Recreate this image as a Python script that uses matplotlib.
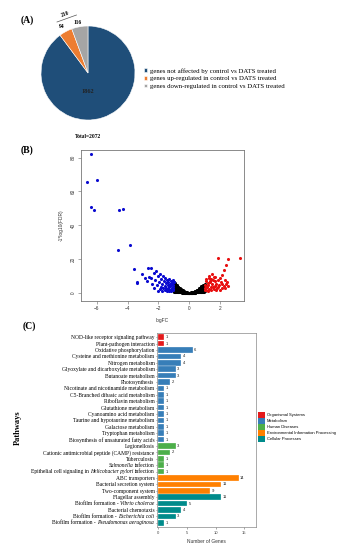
import matplotlib
matplotlib.use("Agg")
import matplotlib.pyplot as plt
from matplotlib.patches import Patch
from matplotlib.lines import Line2D
from matplotlib.offsetbox import TextArea, HPacker, AnnotationBbox

W, H = 348, 550

# ---- (A) pie data ----
pie_labels = ["genes not affected by control vs DATS treated",
              "genes up-regulated in control vs DATS treated",
              "genes down-regulated in control vs DATS treated"]
pie_counts = [1862, 94, 116]
pie_colors = ["#1f4e79", "#ed7d31", "#a5a5a5"]

# ---- (B) volcano data: (logFC, -log10 FDR) pairs ----
down_pts = [(-6.4, 82.2), (-6.62, 65.6), (-5.95, 66.6), (-6.4, 50.6), (-6.18, 49.2),
            (-4.54, 49.0), (-4.32, 49.6), (-4.65, 25.6), (-3.83, 28.6),
            (-3.6, 14.0), (-3.38, 6.6), (-3.37, 5.6), (-3.07, 11.2), (-2.88, 9.0),
            (-2.66, 14.6), (-2.49, 14.6), (-2.75, 6.8), (-2.6, 9.2), (-2.45, 8.6),
            (-2.4, 5.0), (-2.3, 11.8), (-2.2, 7.6), (-2.15, 13.0), (-2.1, 4.4),
            (-2.05, 9.8), (-1.95, 6.2), (-1.9, 11.4), (-1.85, 3.2), (-1.8, 8.2),
            (-1.75, 5.4), (-1.7, 10.2), (-1.68, 2.6), (-1.62, 6.8), (-1.58, 4.2),
            (-1.55, 9.0), (-1.5, 3.0), (-1.48, 5.8), (-1.45, 7.6), (-1.4, 2.2),
            (-1.38, 4.6), (-1.35, 6.4), (-1.32, 3.4), (-1.3, 8.4), (-1.27, 2.0),
            (-1.25, 5.2), (-1.22, 3.8), (-1.2, 6.8), (-1.18, 1.8), (-1.15, 4.4),
            (-1.12, 2.8), (-1.1, 5.8), (-1.08, 3.4), (-1.05, 1.6), (-1.04, 4.8),
            (-1.02, 2.4), (-1.01, 6.2), (-1.6, 1.8), (-1.9, 2.2), (-2.0, 1.4),
            (-1.3, 1.2), (-1.15, 1.0), (-1.45, 1.1), (-1.75, 1.3), (-2.25, 3.0),
            (-1.06, 7.4)]

up_pts = [(1.84, 20.4), (2.53, 20.0), (3.29, 20.6), (2.36, 16.6), (2.23, 13.6),
          (2.1, 10.6), (1.5, 11.0), (1.6, 9.6), (1.3, 9.0), (1.45, 8.0),
          (2.0, 8.6), (2.35, 7.6), (2.45, 6.4), (1.1, 6.8), (1.2, 5.6),
          (1.35, 6.2), (1.5, 5.0), (1.65, 6.8), (1.75, 5.4), (1.85, 7.4),
          (1.95, 4.8), (2.05, 6.2), (2.15, 5.2), (2.25, 4.2), (1.05, 4.4),
          (1.15, 3.4), (1.25, 4.6), (1.4, 3.6), (1.55, 3.2), (1.7, 4.0),
          (1.8, 2.8), (1.9, 3.6), (2.1, 3.0), (2.3, 2.6), (1.02, 2.6),
          (1.1, 2.0), (1.3, 2.4), (1.45, 1.8), (1.6, 2.2), (1.75, 1.6),
          (2.0, 2.0), (1.2, 1.4), (1.0, 1.6), (1.38, 7.2), (1.58, 7.6),
          (1.7, 9.2), (2.5, 4.0), (2.4, 5.2), (1.28, 10.2), (1.12, 8.2)]

ns_pts = [(-1.0, 0.8), (-1.0, 1.7), (-0.98, 2.6), (-1.01, 3.6), (-0.99, 4.6), (-1.0, 5.6),
          (-1.0, 6.6), (-0.97, 5.4), (-0.92, 6.0), (-0.87, 4.9), (-0.82, 4.5),
          (-0.95, 0.8), (-0.94, 1.6), (-0.96, 2.5), (-0.93, 3.4), (-0.95, 4.4),
          (-0.9, 0.7), (-0.89, 1.5), (-0.91, 2.4), (-0.88, 3.3), (-0.9, 4.3), (-0.9, 5.1),
          (-0.85, 0.6), (-0.84, 1.4), (-0.86, 2.2), (-0.83, 3.1), (-0.85, 4.0),
          (-0.8, 0.6), (-0.79, 1.3), (-0.81, 2.1), (-0.78, 3.0), (-0.8, 3.8),
          (-0.75, 0.5), (-0.74, 1.2), (-0.76, 1.9), (-0.73, 2.8), (-0.75, 3.5),
          (-0.77, 4.2), (-0.72, 3.6), (-0.67, 3.1), (-0.62, 2.8), (-0.57, 2.4),
          (-0.7, 0.5), (-0.69, 1.1), (-0.71, 1.8), (-0.68, 2.6),
          (-0.65, 0.4), (-0.64, 1.0), (-0.66, 1.7), (-0.63, 2.4),
          (-0.6, 0.4), (-0.59, 0.9), (-0.61, 1.5), (-0.58, 2.1),
          (-0.55, 0.3), (-0.54, 0.8), (-0.56, 1.3), (-0.53, 1.9),
          (-0.5, 0.3), (-0.49, 0.7), (-0.51, 1.2), (-0.48, 1.7), (-0.52, 2.1),
          (-0.45, 0.2), (-0.44, 0.6), (-0.46, 1.1), (-0.47, 1.6), (-0.42, 1.5),
          (-0.4, 0.2), (-0.39, 0.5), (-0.41, 0.9), (-0.38, 1.3), (-0.37, 1.1),
          (-0.35, 0.15), (-0.34, 0.45), (-0.36, 0.8), (-0.32, 0.95),
          (-0.3, 0.1), (-0.29, 0.4), (-0.31, 0.7),
          (-0.25, 0.08), (-0.24, 0.3), (-0.26, 0.55),
          (-0.2, 0.05), (-0.19, 0.25), (-0.21, 0.45),
          (-0.15, 0.04), (-0.14, 0.2), (-0.1, 0.02), (-0.09, 0.15), (-0.11, 0.3),
          (-0.05, 0.01), (-0.04, 0.1), (0.0, 0.0), (0.01, 0.1), (-0.01, 0.18),
          (0.05, 0.02), (0.06, 0.12), (0.1, 0.03), (0.11, 0.15), (0.09, 0.3),
          (0.15, 0.05), (0.16, 0.22), (0.2, 0.06), (0.21, 0.2), (0.19, 0.4),
          (0.25, 0.1), (0.26, 0.3), (0.24, 0.55), (0.3, 0.12), (0.31, 0.35),
          (0.29, 0.65), (0.35, 0.15), (0.36, 0.4), (0.34, 0.8),
          (0.4, 0.2), (0.41, 0.5), (0.39, 0.9), (0.38, 1.2),
          (0.45, 0.25), (0.46, 0.6), (0.44, 1.0), (0.43, 1.4),
          (0.5, 0.3), (0.51, 0.7), (0.49, 1.1), (0.48, 1.6),
          (0.55, 0.35), (0.56, 0.8), (0.54, 1.3), (0.53, 1.8),
          (0.6, 0.4), (0.61, 0.9), (0.59, 1.4), (0.58, 2.0), (0.62, 2.4),
          (0.65, 0.45), (0.66, 1.0), (0.64, 1.6), (0.63, 2.2), (0.67, 2.7),
          (0.7, 0.5), (0.71, 1.1), (0.69, 1.7), (0.68, 2.4), (0.72, 2.9),
          (0.75, 0.55), (0.76, 1.2), (0.74, 1.9), (0.73, 2.6), (0.77, 3.1),
          (0.8, 0.6), (0.81, 1.3), (0.79, 2.0), (0.78, 2.7), (0.82, 3.3), (0.8, 3.8),
          (0.85, 0.65), (0.86, 1.4), (0.84, 2.1), (0.83, 2.9), (0.87, 3.6), (0.85, 4.2),
          (0.9, 0.7), (0.91, 1.5), (0.89, 2.3), (0.88, 3.1), (0.92, 3.9), (0.9, 4.5),
          (0.95, 0.8), (0.96, 1.6), (0.94, 2.5), (0.93, 3.3), (0.97, 4.1), (0.95, 4.8),
          (1.0, 1.0), (0.99, 2.0), (1.01, 2.9), (0.98, 3.8), (1.0, 4.5), (1.0, 5.3)]

# ---- (C) KEGG pathway data ----
pathways = ["NOD-like receptor signaling pathway",
            "Plant-pathogen interaction",
            "Oxidative phosphorylation",
            "Cysteine and methionine metabolism",
            "Nitrogen metabolism",
            "Glyoxylate and dicarboxylate metabolism",
            "Butanoate metabolism",
            "Photosynthesis",
            "Nicotinate and nicotinamide metabolism",
            "C5-Branched dibasic acid metabolism",
            "Riboflavin metabolism",
            "Glutathione metabolism",
            "Cyanoamino acid metabolism",
            "Taurine and hypotaurine metabolism",
            "Galactose metabolism",
            "Tryptophan metabolism",
            "Biosynthesis of unsaturated fatty acids",
            "Legionellosis",
            "Cationic antimicrobial peptide (CAMP) resistance",
            "Tuberculosis",
            "Salmonella infection",
            "Epithelial cell signaling in Helicobacter pylori infection",
            "ABC transporters",
            "Bacterial secretion system",
            "Two-component system",
            "Flagellar assembly",
            "Biofilm formation - Vibrio cholerae",
            "Bacterial chemotaxis",
            "Biofilm formation - Escherichia coli",
            "Biofilm formation - Pseudomonas aeruginosa"]
species_names = ["Salmonella", "Helicobacter pylori", "Vibrio cholerae",
                 "Escherichia coli", "Pseudomonas aeruginosa"]
gene_counts = [1, 1, 6, 4, 4, 3, 3, 2, 1, 1, 1, 1, 1, 1, 1, 1, 1,
               3, 2, 1, 1, 1, 14, 11, 9, 11, 5, 4, 3, 1]
pathway_class = ["Organismal Systems"] * 2 + ["Metabolism"] * 15 + \
                ["Human Diseases"] * 5 + ["Environmental Information Processing"] * 3 + \
                ["Cellular Processes"] * 5
classes = ["Organismal Systems", "Metabolism", "Human Diseases",
           "Environmental Information Processing", "Cellular Processes"]
class_colors = {"Organismal Systems": "#e41a1c", "Metabolism": "#377eb8",
                "Human Diseases": "#4daf4a",
                "Environmental Information Processing": "#ff8000",
                "Cellular Processes": "#008b8b"}

SERIF = ["Liberation Serif", "DejaVu Serif"]
SANS = ["Liberation Sans", "DejaVu Sans"]
plt.rcParams['font.family'] = SANS

fig = plt.figure(figsize=(W / 100, H / 100), dpi=100)


def rect(l, t, r, b):
    return [l / W, 1 - b / H, (r - l) / W, (b - t) / H]


def ftext(x, y, s, **kw):
    fig.text(x / W, 1 - y / H, s, **kw)


# ---------------- (A) ----------------
ax_pie = fig.add_axes(rect(41, 26, 135, 120))
wedges, _ = ax_pie.pie(pie_counts, colors=pie_colors, startangle=90, counterclock=False,
                       wedgeprops=dict(edgecolor="white", linewidth=0.4))
ax_pie.set_xlim(-1, 1)
ax_pie.set_ylim(-1, 1)
ax_pie.set_aspect("equal")

ftext(88, 91, str(pie_counts[0]), family=SERIF, fontsize=4.5, fontweight="bold",
      ha="center", va="center", color="#222222")
ftext(61.5, 26.5, str(pie_counts[1]), family=SERIF, fontsize=4, fontweight="bold",
      ha="center", va="center")
ftext(77.5, 22.5, str(pie_counts[2]), family=SERIF, fontsize=4, fontweight="bold",
      ha="center", va="center")
ftext(65.5, 14, str(pie_counts[1] + pie_counts[2]), family=SERIF, fontsize=4,
      fontweight="bold", ha="center", va="center", rotation=20)
fig.add_artist(Line2D([57 / W, 76.5 / W], [1 - 22 / H, 1 - 15 / H],
                      transform=fig.transFigure, color="#555555", lw=0.5))
ftext(88, 136, "Total=%d" % sum(pie_counts), family=SERIF, fontsize=4,
      fontweight="bold", ha="center", va="center")

fig.legend(wedges, pie_labels, loc="center left", bbox_to_anchor=(144 / W, 1 - 78.5 / H),
           frameon=False, prop=dict(family=SERIF, size=4.9), handlelength=0.45,
           handleheight=0.45, handletextpad=0.45, labelspacing=0.35, borderpad=0,
           borderaxespad=0)

ftext(27, 20, "(A)", family=SERIF, fontsize=7, fontweight="bold", ha="center", va="center")
ftext(27, 150, "(B)", family=SERIF, fontsize=7, fontweight="bold", ha="center", va="center")
ftext(29, 326, "(C)", family=SERIF, fontsize=7, fontweight="bold", ha="center", va="center")

# ---------------- (B) ----------------
ax_v = fig.add_axes(rect(81, 150, 244, 301))
for pts, col in [(ns_pts, "black"), (down_pts, "#0a0ad0"), (up_pts, "#e81010")]:
    ax_v.scatter([p[0] for p in pts], [p[1] for p in pts], s=5, c=col, linewidths=0)
ax_v.set_xlim(-7.02, 3.56)
ax_v.set_ylim(-4.8, 84.5)
ax_v.set_xticks([-6, -4, -2, 0, 2])
ax_v.set_yticks([0, 20, 40, 60, 80])
ax_v.tick_params(labelsize=3.4, length=2, width=0.4, color="#666666", pad=1.5,
                 labelcolor="#333333")
for lab in ax_v.get_yticklabels():
    lab.set_rotation(90)
    lab.set_va("center")
for sp in ax_v.spines.values():
    sp.set_linewidth(0.6)
    sp.set_color("#777777")
ax_v.set_xlabel("logFC", fontsize=3.5, labelpad=5, color="#333333")
ax_v.set_ylabel("-1*log10(FDR)", fontsize=3.5, labelpad=5, color="#333333")

# ---------------- (C) ----------------
ax_b = fig.add_axes(rect(157.3, 333.3, 256, 526.7))
ypos = list(range(len(pathways)))
ax_b.barh(ypos, gene_counts, height=0.88,
          color=[class_colors[c] for c in pathway_class], edgecolor="white", linewidth=0.2)
for yi, v in zip(ypos, gene_counts):
    ax_b.text(v + 0.25, yi, str(v), va="center", ha="left", fontsize=3, color="#222222")
ax_b.set_xlim(-0.2, 17.05)
ax_b.set_ylim(len(pathways) - 0.4, -0.6)
ax_b.set_yticks(ypos)

# tick labels: plain ones as normal tick labels, species names drawn in italics
plain = []
for yi, name in zip(ypos, pathways):
    sp_name = [s for s in species_names if s in name]
    if not sp_name:
        plain.append(name)
        continue
    plain.append("")
    before, after = name.split(sp_name[0])
    parts = []
    if before.strip():
        parts.append(TextArea(before.strip(), textprops=dict(family=SERIF, size=4)))
    parts.append(TextArea(sp_name[0], textprops=dict(family=SERIF, size=4, style="italic")))
    if after.strip():
        parts.append(TextArea(after.strip(), textprops=dict(family=SERIF, size=4)))
    box = HPacker(children=parts, align="baseline", pad=0, sep=0.9)
    ab = AnnotationBbox(box, (0, yi), xycoords=("axes fraction", "data"),
                        xybox=(-2.2, 0), boxcoords="offset points",
                        box_alignment=(1, 0.5), frameon=False, pad=0,
                        annotation_clip=False)
    ax_b.add_artist(ab)
ax_b.set_yticklabels(plain, family=SERIF, fontsize=4)

ax_b.set_xticks([0, 5, 10, 15])
ax_b.tick_params(axis="x", labelsize=3, length=1.5, width=0.4, pad=1.5, color="#666666",
                 labelcolor="#444444")
ax_b.tick_params(axis="y", length=1, width=0.4, pad=1, color="#444444")
for sp in ax_b.spines.values():
    sp.set_linewidth(0.5)
    sp.set_color("#888888")
ax_b.set_xlabel("Number of Genes", fontsize=3.5, labelpad=3, color="#333333")
ftext(18, 428, "Pathways", family=SERIF, fontsize=6, fontweight="bold", rotation=90,
      ha="center", va="center")

handles = [Patch(facecolor=class_colors[c], edgecolor="none") for c in classes]
ax_b.legend(handles, classes, loc="upper left", bbox_to_anchor=(258.3 / W, 1 - 412.3 / H),
            bbox_transform=fig.transFigure, frameon=False, fontsize=3,
            handlelength=1.6, handleheight=1.6, handletextpad=0.5, labelspacing=0.15,
            borderpad=0, borderaxespad=0)

fig.savefig("out.png", dpi=100)
